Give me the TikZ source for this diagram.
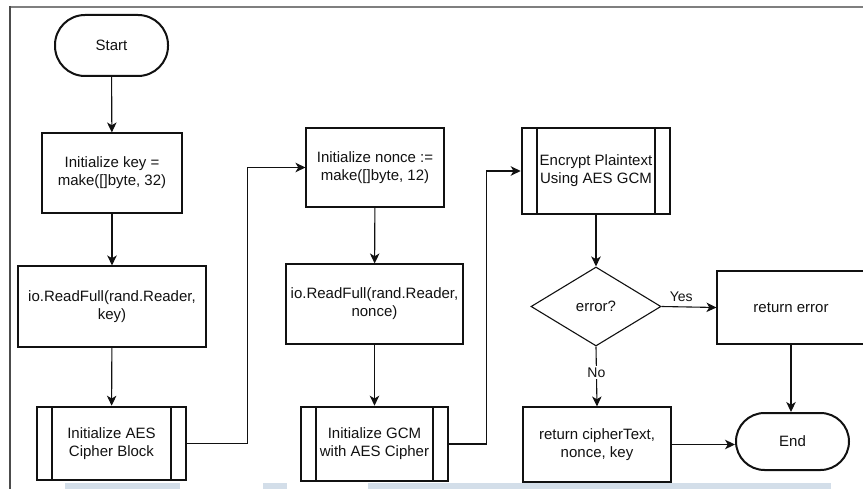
\documentclass[tikz,border=0pt]{standalone}
\usepackage{fontspec}
\setmainfont{Liberation Sans}
\usetikzlibrary{shapes.geometric,arrows.meta}

\definecolor{ink}{HTML}{111111}
\definecolor{framegray}{HTML}{7F7F7F}
\definecolor{bandblue}{HTML}{D3DEE9}

\begin{document}
% coordinates in points, origin at the top left corner, y growing upwards (so rows are negative)
\begin{tikzpicture}[x=1pt,y=1pt,
  every node/.style={font=\fontsize{15}{18}\selectfont, text=ink},
  procbox/.style={draw=ink, line width=1.1pt, rectangle, inner sep=0pt, align=center},
  subbox/.style={draw=ink, line width=2.6pt, rectangle, inner sep=0pt, align=center,
    path picture={
      \draw[ink, line width=1.7pt]
        ([xshift=15pt]path picture bounding box.north west) -- ([xshift=15pt]path picture bounding box.south west)
        ([xshift=-15pt]path picture bounding box.north east) -- ([xshift=-15pt]path picture bounding box.south east);
    }},
  termbox/.style={draw=ink, line width=2pt, rectangle, inner sep=0pt, minimum width=113pt},
  decision/.style={draw=ink, line width=1.1pt, diamond, inner sep=0pt, minimum width=130pt, minimum height=79pt},
  flow/.style={color=ink, line width=1.1pt, -{Stealth[length=10pt,width=9.5pt,inset=2.8pt]}},
  lbl/.style={font=\fontsize{14}{16}\selectfont},
]
\useasboundingbox (0,0) rectangle (863,-489);

% page frame and pale strips along the lower edge
\path[fill=bandblue] (65,-483) rectangle (180,-489);
\path[fill=bandblue] (263,-483) rectangle (287,-489);
\path[fill=bandblue] (368,-483) rectangle (831,-489);
\draw[framegray, line width=2pt] (10,-7) -- (863,-7);
\draw[ink!75, line width=1.1pt] (10,-6) -- (10,-489);

% first column
\node[termbox, minimum height=61pt, rounded corners=30pt] (start) at (111.5,-45.5) {Start};
\node[procbox, minimum width=140pt, minimum height=80pt] (key) at (112,-173) {Initialize key =\\make([]byte, 32)};
\node[procbox, minimum width=188pt, minimum height=81pt] (rfk) at (112,-306.5) {io.ReadFull(rand.Reader,\\key)};
\node[subbox, minimum width=149pt, minimum height=73pt] (aes) at (111.5,-443.5) {Initialize AES\\Cipher Block};

% second column
\node[procbox, minimum width=138pt, minimum height=79pt] (nonce) at (375,-167.5) {Initialize nonce :=\\make([]byte, 12)};
\node[procbox, minimum width=177pt, minimum height=80pt] (rfn) at (374.5,-304) {io.ReadFull(rand.Reader,\\nonce)};
\node[subbox, minimum width=147pt, minimum height=74pt] (gcm) at (374.5,-444) {Initialize GCM\\with AES Cipher};

% third column
\node[subbox, minimum width=148pt, minimum height=86pt] (enc) at (596,-171) {Encrypt Plaintext\\Using AES GCM};
\node[decision] (dia) at (596,-306.5) {error?};
\node[procbox, minimum width=148pt, minimum height=75pt] (ret) at (597,-444.5) {return cipherText,\\nonce, key};

% fourth column
\node[procbox, minimum width=148pt, minimum height=73pt] (err) at (791,-307.5) {return error};
\node[termbox, minimum height=57pt, rounded corners=28.5pt] (end) at (792.5,-441.5) {End};

% connectors
\draw[flow] (start) -- (key);
\draw[flow] (key) -- (rfk);
\draw[flow] (rfk) -- (aes);
\draw[flow] (aes.east) -- ++(60,0) |- (nonce.west);
\draw[flow] (nonce) -- (rfn);
\draw[flow] (rfn) -- (gcm);
\draw[flow] (gcm.east) -- ++(37,0) |- (enc.west);
\draw[flow] (enc) -- (dia);
\draw[flow] (dia.east) -- node[lbl, pos=0.36, above=1pt] {Yes} (err.west);
\draw[flow] (dia.south) -- node[lbl, pos=0.43, fill=white, inner sep=1.5pt] {No} (ret.north);
\draw[flow] (err.south) -- (err.south |- end.north);
\draw[flow] (ret.east) -- (ret.east -| end.west);
\end{tikzpicture}
\end{document}
